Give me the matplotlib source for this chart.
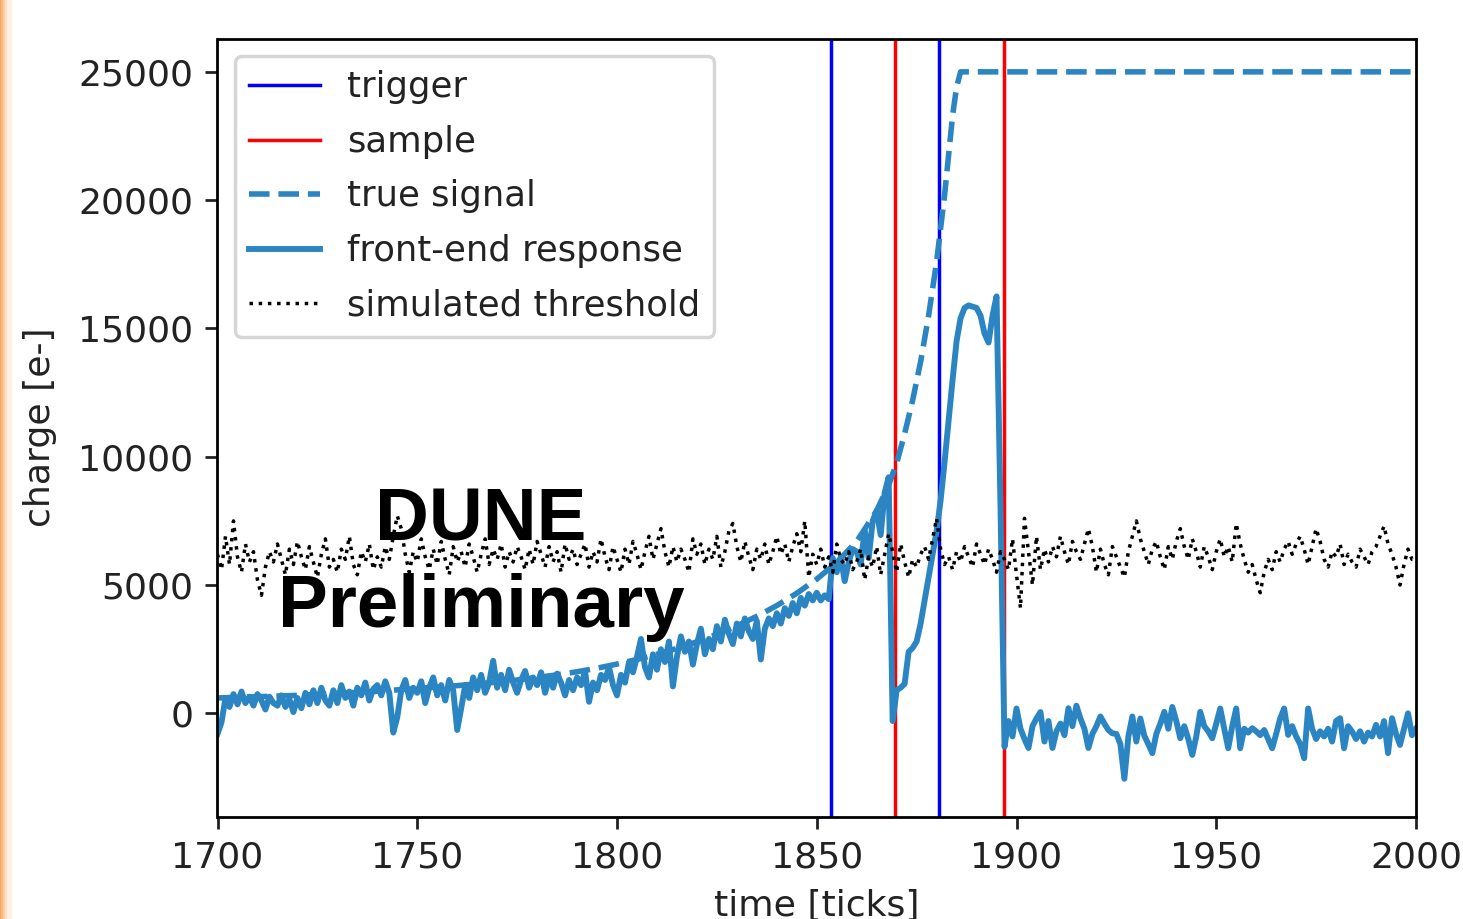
import numpy as np
import matplotlib
matplotlib.use("Agg")
import matplotlib.pyplot as plt
from matplotlib.patches import Rectangle

# ---------------- data ----------------
ticks = list(range(1700, 2001))

response = [
    -800, -350, 600, 250, 750, 350, 850, 400, 650, 300,
    750, 500, 150, 650, 400, 300, 700, 250, 550, 50,
    600, 200, 800, 350, 900, 400, 1000, 500, 300, 900,
    400, 1100, 600, 850, 300, 1000, 700, 1200, 500, 950,
    1100, 700, 1250, 800, -750, -150, 900, 1300, 600, 1000,
    800, 1250, 400, 1000, 1400, 700, 1100, 500, 1300, 900,
    -650, 200, 1100, 600, 1400, 900, 1500, 800, 1200, 2050,
    1000, 1500, 900, 1700, 1200, 800, 1300, 1650, 1000, 1400,
    1100, 1600, 800, 1400, 1000, 1550, 1200, 700, 1300, 900,
    1400, 1100, 1650, 450, 1200, 900, 1500, 1300, 1800, 1100,
    700, 1500, 1200, 2000, 1600, 2200, 2900, 1800, 1400, 2300,
    1700, 2500, 2000, 2800, 1050, 2200, 3000, 2400, 2800, 1900,
    2700, 3300, 2300, 2900, 2500, 3400, 2800, 3650, 3100, 2700,
    3500, 3000, 3700, 3200, 2900, 3600, 2100, 3300, 3700, 3400,
    3900, 3500, 4100, 3800, 4300, 3900, 4500, 4200, 4650, 4400,
    4700, 4400, 4600, 4450, 6050, 5500, 6100, 5150, 5900, 6400,
    6300, 5800, 7150, 6050, 7500, 7900, 6950, 8600, 9200, -300,
    900, 1000, 1150, 2400, 2550, 2800, 3500, 4400, 5300, 6200,
    7100, 8300, 9800, 11400, 13000, 14500, 15400, 15800, 15900, 15850,
    15800, 15500, 14800, 14450, 15500, 16250, 8000, -1300, -300, -900,
    190, -600, -1000, -1350, -500, -200, 50, -1100, -300, -1350,
    -700, -400, -850, 200, -500, 300, -200, -600, -1350, -800,
    -500, -120, -400, -650, -780, -800, -1200, -2550, -900, -120,
    -1100, -200, -880, -1200, -1550, -800, -400, 60, -600, 250,
    -300, -970, -500, -1000, -1620, -900, 60, -500, -700, -970,
    -400, 190, -600, -1360, -500, 190, -1360, -600, -750, -580,
    -700, -850, -650, -1000, -1360, -800, -200, 190, -840, -500,
    -900, -1200, -1750, 190, -600, -1000, -700, -900, -600, -1100,
    -300, -190, -1360, -500, -710, -1000, -700, -1100, -750, -900,
    -450, -900, -300, -1550, -190, -800, -1230, -600, 0, -850,
    -600,
]

threshold = [
    6200, 5600, 6900, 5800, 7500, 6100, 5500, 6600, 5900, 6300,
    5200, 4600, 5700, 6300, 5900, 6600, 6000, 5400, 6400, 5800,
    6700, 6100, 5600, 6500, 5900, 5300, 6200, 6800, 5700, 6000,
    5500, 6400, 6000, 6900, 5800, 5400, 6300, 5900, 6600, 5600,
    6100, 5700, 6500, 6000, 6900, 7700, 7200, 6200, 5500, 6300,
    5900, 6800, 6100, 5600, 6400, 5800, 6700, 6000, 5400, 6500,
    5900, 6300, 5700, 6600, 6100, 5500, 6200, 6800, 5800, 6400,
    6000, 6600, 5700, 6300, 5900, 6500, 6100, 5600, 6400, 5800,
    6700, 6200, 5700, 6500, 5900, 6300, 5500, 6600, 6000, 6400,
    5800, 6200, 6600, 5700, 6300, 5900, 6800, 6100, 5600, 6500,
    6000, 5500, 6400, 5800, 6700, 6200, 5600, 6300, 6900, 6000,
    6600, 7200, 6300, 5700, 6500, 5900, 6400, 6000, 5500, 6800,
    6200, 6600, 5800, 6400, 6000, 6900, 5700, 6300, 7100, 7400,
    6500, 5900, 6700, 6100, 5600, 6400, 6000, 6600, 5800, 6300,
    6900, 6200, 6600, 5900, 6500, 7000, 6300, 7500, 5300, 6200,
    5800, 6400, 5700, 6100, 5500, 6600, 6000, 5800, 6300, 5600,
    5900, 6400, 5200, 6100, 5700, 6500, 5400, 6200, 7000, 6300,
    5500, 6600, 5900, 5300, 6000, 5700, 6200, 6500, 6000, 6800,
    7600, 6400, 5800, 6100, 5600, 6300, 5900, 6500, 6100, 5700,
    6600, 6200, 5800, 6400, 6000, 5500, 6300, 6000, 5600, 6800,
    5400, 4100, 7600, 6300, 5000, 6900, 5600, 6400, 5900, 6500,
    6100, 6900, 6300, 5800, 6700, 6300, 6000, 6600, 7200, 6500,
    5500, 6400, 5800, 5400, 6500, 6100, 5700, 5300, 6300, 6900,
    7500, 6800, 6300, 5800, 6400, 6700, 6100, 5600, 6500, 6000,
    6700, 7200, 6500, 6000, 6800, 6300, 5700, 6500, 6100, 5600,
    6300, 6800, 6100, 6500, 5900, 7400, 6600, 6000, 5500, 5800,
    5200, 4700, 5500, 6000, 5600, 6300, 5900, 6400, 6700, 6200,
    6600, 6900, 6400, 5800, 6500, 7200, 6700, 6000, 5700, 6300,
    6100, 6600, 5800, 6200, 5900, 5700, 6400, 6100, 5800, 6300,
    6500, 6900, 7300, 6600, 6200, 5700, 5000, 5800, 6400, 6000,
    6000,
]

true_t = [1700, 1720, 1740, 1760, 1770, 1775, 1780, 1785, 1790, 1795,
          1800, 1805, 1810, 1815, 1820, 1825, 1830, 1835, 1840, 1845,
          1850, 1855, 1860, 1865, 1868, 1870, 1872, 1874, 1876, 1878,
          1880, 1882, 1884, 1885, 1886, 2000]
true_q = [600, 700, 860, 1080, 1220, 1300, 1400, 1500, 1620, 1760,
          1920, 2100, 2300, 2530, 2790, 3080, 3410, 3780, 4200, 4680,
          5230, 5880, 6700, 7900, 8900, 9750, 10900, 12200, 13700, 15500,
          17600, 20200, 23300, 24400, 25000, 25000]

trigger_times = [1853.5, 1880.6]
sample_times = [1869.6, 1896.9]

# ---------------- figure ----------------
plt.rcParams['font.size'] = 10.45
W, H = 1463, 919
fig = plt.figure(figsize=(W / 250, H / 250), dpi=250)

# orange slide stripe on the far left
stripe_cols = ['#f6a35f', '#f8b57d', '#fbc99f', '#fde0c6', '#fff0e3']
for i, c in enumerate(stripe_cols):
    fig.patches.append(Rectangle((i * 2 / W, 0), 2 / W, 1, transform=fig.transFigure,
                                 color=c, zorder=0))

ax = fig.add_axes([217.5 / W, 1 - 816.5 / H, (1416 - 217.5) / W, (816.5 - 38.5) / H])

for i, t in enumerate(trigger_times):
    ax.axvline(t, color='#0000ff', lw=1.0, label='trigger' if i == 0 else None)
for i, t in enumerate(sample_times):
    ax.axvline(t, color='#ff0000', lw=1.0, label='sample' if i == 0 else None)

blue = '#2a85c2'
ax.plot(true_t, true_q, '--', color=blue, lw=1.6, label='true signal')
ax.plot(ticks, response, '-', color=blue, lw=1.7, label='front-end response')
ax.plot(ticks, threshold, ':', color='black', lw=1.0, label='simulated threshold')

ax.set_xlim(1700, 2000)
ax.set_ylim(-4020, 26300)
ax.set_xticks([1700, 1750, 1800, 1850, 1900, 1950, 2000])
ax.set_yticks([0, 5000, 10000, 15000, 20000, 25000])
ax.tick_params(colors='#222222', labelcolor='#222222')
ax.set_xlabel('time [ticks]', color='#222222')
ax.set_ylabel('charge [e-]', color='#222222', labelpad=6)

leg = ax.legend(loc='upper left', fontsize=10.2, labelspacing=0.58,
                handletextpad=0.75)
for t in leg.get_texts():
    t.set_color('#222222')

ax.text(1766, 6753, 'DUNE', fontsize=21.5, fontweight='bold',
        family='Liberation Sans', ha='center', va='baseline')
ax.text(1766, 3363, 'Preliminary', fontsize=21.5, fontweight='bold',
        family='Liberation Sans', ha='center', va='baseline')

fig.savefig('out.png', dpi=250)
